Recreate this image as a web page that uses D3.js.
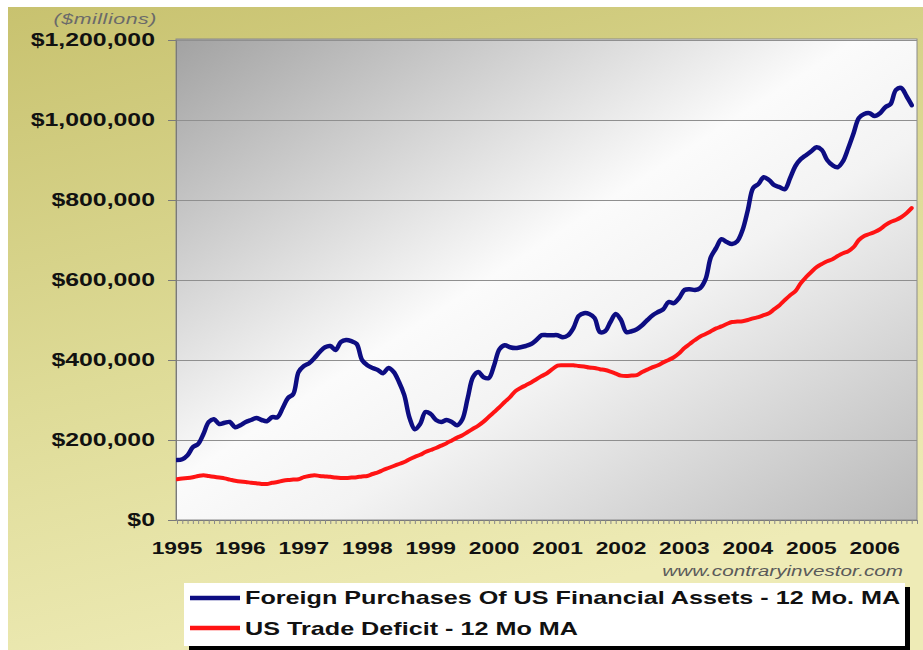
<!DOCTYPE html>
<html>
<head>
<meta charset="utf-8">
<script src="https://cdn.jsdelivr.net/npm/d3@7"></script>
<style>
  html, body { margin: 0; padding: 0; background: #ffffff; }
  svg { display: block; }
  text { font-family: "Liberation Sans", Arial, sans-serif; }
</style>
</head>
<body>
<svg id="chart" width="923" height="650"></svg>
<script>
// Monthly observations, Jan 1995 – Aug 2006 ($ millions, 12-month moving averages)
const startMonth = new Date(1995, 0, 1);

const foreignPurchases = [
  150000,152000,162000,182000,190000,215000,245000,252000,240000,243000,
  245000,232000,237000,245000,250000,255000,250000,247000,257000,257000,
  280000,305000,315000,370000,385000,392000,405000,420000,432000,435000,
  425000,445000,450000,447000,440000,400000,387000,380000,375000,367000,
  380000,370000,345000,312000,255000,227000,240000,270000,265000,250000,
  245000,250000,245000,237000,252000,305000,357000,370000,357000,355000,
  387000,427000,437000,432000,430000,432000,435000,440000,450000,462000,
  462000,462000,462000,457000,462000,480000,510000,517000,515000,505000,
  470000,472000,495000,515000,500000,470000,472000,477000,487000,500000,
  512000,520000,527000,545000,542000,555000,575000,577000,575000,580000,
  602000,657000,680000,702000,695000,690000,697000,725000,775000,830000,
  840000,857000,850000,837000,832000,827000,855000,885000,902000,912000,
  922000,932000,925000,900000,887000,882000,897000,930000,967000,1005000,
  1015000,1017000,1010000,1017000,1032000,1040000,1075000,1080000,1060000,1037000
];

const tradeDeficit = [
  102000,104000,105000,107000,110000,112000,110000,108000,106000,104000,
  101000,98000,96000,95000,93000,92000,90000,90000,93000,95000,
  98000,100000,101000,102000,107000,110000,112000,110000,109000,108000,
  106000,105000,105000,106000,107000,109000,110000,115000,119000,125000,
  130000,135000,140000,145000,152000,158000,163000,170000,175000,180000,
  186000,192000,199000,206000,212000,220000,228000,236000,246000,258000,
  270000,282000,295000,307000,322000,330000,337000,344000,352000,360000,
  367000,377000,386000,387000,387000,387000,385000,384000,381000,380000,
  377000,375000,371000,366000,361000,360000,361000,362000,370000,376000,
  382000,387000,394000,400000,407000,417000,430000,440000,450000,459000,
  465000,472000,479000,484000,490000,495000,496000,497000,500000,504000,
  507000,512000,517000,527000,537000,550000,562000,572000,592000,607000,
  620000,632000,640000,647000,652000,660000,667000,672000,682000,700000,
  710000,715000,720000,727000,737000,745000,750000,757000,767000,780000
];

const yearLabels = ["1995","1996","1997","1998","1999","2000","2001","2002","2003","2004","2005","2006"];
const valueTicks = [0, 200000, 400000, 600000, 800000, 1000000, 1200000];
const seriesNames = [
  "Foreign Purchases Of US Financial Assets - 12 Mo. MA",
  "US Trade Deficit - 12 Mo MA"
];
const seriesColors = ["#0d0d82", "#ff1414"];
const unitLabel = "($millions)";
const sourceLabel = "www.contraryinvestor.com";

// ---- layout ----
const W = 923, H = 650;
const plot = { left: 176, right: 917, top: 39, bottom: 520 };
const stretch = 1.38;   // wide lettering used throughout the chart

const svg = d3.select("#chart");
const defs = svg.append("defs");

const bgGrad = defs.append("linearGradient").attr("id", "bgGrad")
  .attr("x1", 0).attr("y1", 0).attr("x2", 0.35).attr("y2", 1);
bgGrad.append("stop").attr("offset", 0).attr("stop-color", "#c8c26f");
bgGrad.append("stop").attr("offset", 0.55).attr("stop-color", "#dedb97");
bgGrad.append("stop").attr("offset", 1).attr("stop-color", "#eeebb6");

const plotGrad = defs.append("linearGradient").attr("id", "plotGrad")
  .attr("x1", 0).attr("y1", 0).attr("x2", 1).attr("y2", 1);
plotGrad.append("stop").attr("offset", 0).attr("stop-color", "#a2a2a2");
plotGrad.append("stop").attr("offset", 0.46).attr("stop-color", "#fbfbfb");
plotGrad.append("stop").attr("offset", 0.6).attr("stop-color", "#f3f3f3");
plotGrad.append("stop").attr("offset", 1).attr("stop-color", "#b9b9b9");

// panel background
svg.append("rect").attr("x", 8).attr("y", 7).attr("width", W - 8).attr("height", H - 7)
  .attr("fill", "url(#bgGrad)");

// scales
const months = d3.range(foreignPurchases.length);
const x = d3.scaleLinear().domain([0, 140]).range([plot.left + 1, plot.right]);
const y = d3.scaleLinear().domain([0, 1200000]).range([plot.bottom, plot.top + 1]);

// plot area
svg.append("rect")
  .attr("x", plot.left).attr("y", plot.top)
  .attr("width", plot.right - plot.left).attr("height", plot.bottom - plot.top)
  .attr("fill", "url(#plotGrad)")
  .attr("stroke", "#8a8a8a").attr("stroke-width", 1);

// horizontal gridlines
svg.append("g").selectAll("line").data(valueTicks.filter(v => v > 0)).join("line")
  .attr("x1", plot.left).attr("x2", plot.right)
  .attr("y1", d => Math.round(y(d)) + 0.5).attr("y2", d => Math.round(y(d)) + 0.5)
  .attr("stroke", "#8f8f8f").attr("stroke-width", 1);

// y axis: short outward ticks, labels drawn separately
const yAxis = svg.append("g")
  .attr("transform", `translate(${plot.left},0)`)
  .call(d3.axisLeft(y).tickValues(valueTicks).tickSize(8).tickFormat(""));
yAxis.select(".domain").attr("stroke", "#7a7a7a");
yAxis.selectAll(".tick line").attr("stroke", "#7a7a7a");

svg.append("g").selectAll("text").data(valueTicks).join("text")
  .attr("transform", d => `translate(155,${y(d) + 6}) scale(${stretch},1)`)
  .attr("text-anchor", "end")
  .attr("font-size", 18).attr("font-weight", "bold").attr("fill", "#111")
  .text(d => "$" + d3.format(",")(d));

// x axis: monthly minor ticks
const xAxis = svg.append("g")
  .attr("transform", `translate(0,${plot.bottom})`)
  .call(d3.axisBottom(x).tickValues(d3.range(0, 141)).tickSize(4).tickFormat(""));
xAxis.select(".domain").attr("stroke", "#7a7a7a");
xAxis.selectAll(".tick line").attr("stroke", "#8a8a8a");

svg.append("g").selectAll("text").data(yearLabels).join("text")
  .attr("transform", (d, i) => `translate(${x(i * 12)},554) scale(${stretch},1)`)
  .attr("text-anchor", "middle")
  .attr("font-size", 16.5).attr("font-weight", "bold").attr("fill", "#111")
  .text(d => d);

// unit caption and source
svg.append("text")
  .attr("transform", `translate(157,24) scale(${stretch},1)`)
  .attr("text-anchor", "end").attr("font-size", 15.5).attr("font-style", "italic")
  .attr("fill", "#6a6a6a").attr("letter-spacing", 0.4)
  .text(unitLabel);

svg.append("text")
  .attr("transform", `translate(903,576) scale(${stretch},1)`)
  .attr("text-anchor", "end").attr("font-size", 15).attr("font-style", "italic")
  .attr("fill", "#5a5a5a")
  .text(sourceLabel);

// series lines
const line = d3.line()
  .x((d, i) => x(i))
  .y(d => y(d))
  .curve(d3.curveCatmullRom.alpha(0.5));

const clip = defs.append("clipPath").attr("id", "plotClip");
clip.append("rect").attr("x", plot.left).attr("y", plot.top - 4)
  .attr("width", plot.right - plot.left).attr("height", plot.bottom - plot.top + 4);

const lines = svg.append("g").attr("clip-path", "url(#plotClip)");
lines.append("path").datum(tradeDeficit)
  .attr("d", line).attr("fill", "none")
  .attr("stroke", seriesColors[1]).attr("stroke-width", 4)
  .attr("stroke-linejoin", "round").attr("stroke-linecap", "round");
lines.append("path").datum(foreignPurchases)
  .attr("d", line).attr("fill", "none")
  .attr("stroke", seriesColors[0]).attr("stroke-width", 4.5)
  .attr("stroke-linejoin", "round").attr("stroke-linecap", "round");

// legend with drop shadow
const legend = { x: 184, y: 583, w: 721, h: 63 };
svg.append("rect").attr("x", legend.x + 5).attr("y", legend.y + 4)
  .attr("width", legend.w).attr("height", legend.h).attr("fill", "#000");
svg.append("rect").attr("x", legend.x).attr("y", legend.y)
  .attr("width", legend.w).attr("height", legend.h).attr("fill", "#fff");

const legendRows = svg.append("g").selectAll("g").data(seriesNames).join("g");
legendRows.append("line")
  .attr("x1", 190).attr("x2", 240)
  .attr("y1", (d, i) => 598 + i * 30).attr("y2", (d, i) => 598 + i * 30)
  .attr("stroke", (d, i) => seriesColors[i]).attr("stroke-width", 4.5);
legendRows.append("text")
  .attr("transform", (d, i) => `translate(245,${604 + i * 31}) scale(1.4,1)`)
  .attr("font-size", 18).attr("font-weight", "bold").attr("fill", "#111")
  .text(d => d);
</script>
</body>
</html>
